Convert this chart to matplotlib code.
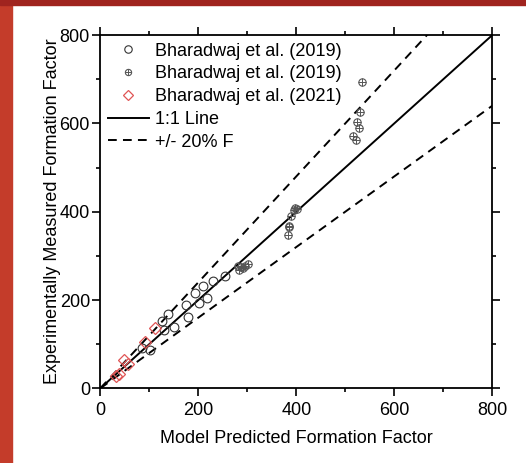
import matplotlib
matplotlib.use("Agg")
import matplotlib.pyplot as plt
from matplotlib.patches import Rectangle

plt.rcParams['font.family'] = ['Liberation Sans', 'DejaVu Sans']

# open circles - Bharadwaj et al. (2019)
x_open = [86, 101, 126, 129, 139, 150, 175, 178, 193, 201, 209, 217, 229, 254]
y_open = [92, 87, 152, 132, 168, 138, 188, 162, 216, 193, 232, 204, 244, 254]

# crossed circles - Bharadwaj et al. (2019)
x_cross = [280, 284, 288, 292, 295, 301, 382, 386, 386, 389, 395, 398, 401,
           516, 522, 524, 527, 530, 535]
y_cross = [277, 268, 275, 272, 277, 281, 347, 366, 368, 390, 404, 409, 405,
           571, 562, 602, 589, 626, 694]

# diamonds - Bharadwaj et al. (2021)
x_dia = [33, 38, 48, 57, 92, 112]
y_dia = [29, 33, 65, 55, 105, 137]

line_x = [0, 800]
ticks = [0, 200, 400, 600, 800]

fig = plt.figure(figsize=(5.26, 4.63), dpi=100)
fig.patch.set_facecolor('white')
# background strips of the slide
fig.patches.append(Rectangle((0, 0), 12 / 526, 1, transform=fig.transFigure,
                             color='#c43c2a', zorder=0))
fig.patches.append(Rectangle((0, 1 - 5 / 463), 1, 5 / 463, transform=fig.transFigure,
                             color='#a0241f', zorder=0))

ax = fig.add_axes([0.1907, 0.1613, 0.7453, 0.763])

l11, = ax.plot(line_x, line_x, color='black', lw=1.4, label='1:1 Line')
l20, = ax.plot(line_x, [v * 1.2 for v in line_x], color='black', lw=1.4,
               ls=(0, (4.5, 3.2)), label='+/- 20% F')
ax.plot(line_x, [v * 0.8 for v in line_x], color='black', lw=1.4, ls=(0, (4.5, 3.2)))

h1, = ax.plot(x_open, y_open, 'o', ms=6.3, mfc='none', mec='#333333', mew=0.8, ls='none')
h2a, = ax.plot(x_cross, y_cross, 'o', ms=5.3, mfc='none', mec='#555555', mew=0.8, ls='none')
h2b, = ax.plot(x_cross, y_cross, '+', ms=5.3, mec='#555555', mew=0.7, ls='none')
h3, = ax.plot(x_dia, y_dia, 'D', ms=5.8, mfc='none', mec='#e05555', mew=0.9, ls='none')

ax.set_xlim(0, 800)
ax.set_ylim(0, 800)
ax.set_xticks(ticks)
ax.set_yticks(ticks)
ax.set_xticks(range(100, 800, 200), minor=True)
ax.set_yticks(range(100, 800, 200), minor=True)
ax.tick_params(which='both', direction='out', top=True, right=True,
               labeltop=False, labelright=False, width=1.2, labelsize=13)
ax.tick_params(which='major', length=6)
ax.tick_params(which='minor', length=3)
ax.tick_params(axis='y', which='major', pad=1.5)
ax.tick_params(axis='x', which='major', pad=4)
for s in ax.spines.values():
    s.set_linewidth(1.3)

ax.set_xlabel('Model Predicted Formation Factor', fontsize=13, labelpad=8)
ax.set_ylabel('Experimentally Measured Formation Factor', fontsize=13, labelpad=-1)

leg = ax.legend([h1, (h2a, h2b), h3, l11, l20],
                ['Bharadwaj et al. (2019)', 'Bharadwaj et al. (2019)',
                 'Bharadwaj et al. (2021)', '1:1 Line', '+/- 20% F'],
                loc='upper left', frameon=False, fontsize=13, numpoints=1,
                markerscale=0.85,
                handlelength=2.25, handletextpad=0.35, labelspacing=0.32,
                borderaxespad=0.1, borderpad=0.32)

fig.savefig('out.png', dpi=100)
